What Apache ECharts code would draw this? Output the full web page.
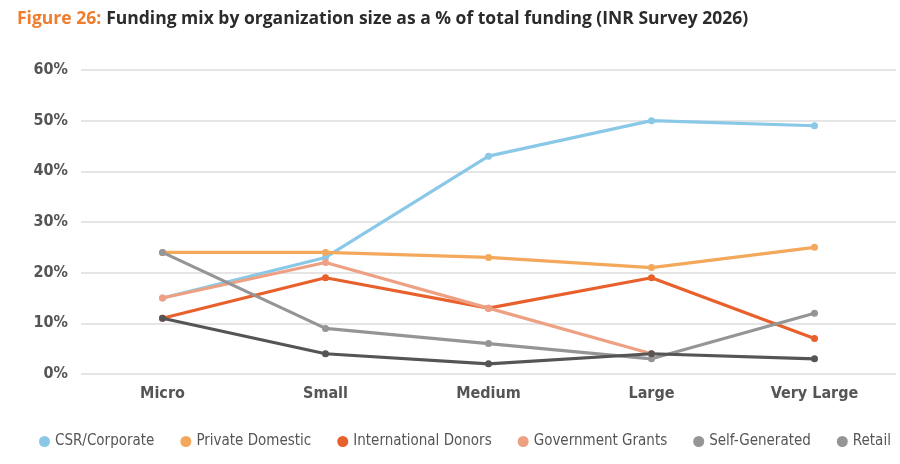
<!DOCTYPE html>
<html>
<head>
<meta charset="utf-8">
<script src="https://cdn.jsdelivr.net/npm/echarts@6/dist/echarts.min.js"></script>
<style>
  html, body { margin: 0; padding: 0; background: #fff; }
  #chart { width: 900px; height: 464px; }
</style>
</head>
<body>
<div id="chart"></div>
<script>
const categories = ['Micro', 'Small', 'Medium', 'Large', 'Very Large']
const yTicks = [0, 10, 20, 30, 40, 50, 60]

const csrCorporate = [15, 23, 43, 50, 49]
const privateDomestic = [24, 24, 23, 21, 25]
const internationalDonors = [11, 19, 13, 19, 7]
const governmentGrants = [15, 22, 13, 4, null]
const selfGenerated = [24, 9, 6, 3, 12]
const retail = [11, 4, 2, 4, 3]

const condensed = '"DejaVu Sans Condensed", "Liberation Sans Narrow", sans-serif'

const seriesDefs = [
  { name: 'CSR/Corporate', data: csrCorporate, color: '#8ac8e8', legendColor: '#8ac8e8' },
  { name: 'Private Domestic', data: privateDomestic, color: '#f3a85c', legendColor: '#f3a85c' },
  { name: 'International Donors', data: internationalDonors, color: '#e8602c', legendColor: '#e8602c' },
  { name: 'Government Grants', data: governmentGrants, color: '#eea083', legendColor: '#eea083' },
  { name: 'Self-Generated', data: selfGenerated, color: '#959597', legendColor: '#959597' },
  { name: 'Retail', data: retail, color: '#555555', legendColor: '#959597' },
]

const myChart = echarts.init(document.getElementById('chart'))

const option = {
  animation: false,
  title: {
    left: 12,
    top: 5,
    text: '{a|Figure 26:} {b|Funding mix by organization size as a % of total funding (INR Survey 2026)}',
    textStyle: {
      rich: {
        a: { color: '#ef7d2d', fontSize: 17.5, fontWeight: 'bold', fontFamily: '"Open Sans", sans-serif' },
        b: { color: '#2b2b2b', fontSize: 17.5, fontWeight: 'bold', fontFamily: '"Open Sans", sans-serif' },
      },
    },
  },
  legend: {
    bottom: 10,
    left: 34,
    icon: 'circle',
    itemWidth: 11,
    itemHeight: 11,
    itemGap: 26,
    textStyle: { color: '#555', fontSize: 15, fontFamily: condensed },
    data: seriesDefs.map(s => ({ name: s.name, itemStyle: { color: s.legendColor } })),
  },
  grid: { left: 81, right: 4, top: 70, height: 304, containLabel: false },
  xAxis: {
    type: 'category',
    data: categories,
    boundaryGap: true,
    axisLine: { show: false },
    axisTick: { show: false },
    axisLabel: { color: '#555', fontSize: 16, fontWeight: 'bold', fontFamily: condensed, margin: 12 },
  },
  yAxis: {
    type: 'value',
    min: yTicks[0],
    max: yTicks[yTicks.length - 1],
    interval: 10,
    axisLine: { show: false },
    axisTick: { show: false },
    axisLabel: {
      color: '#555', fontSize: 16, fontWeight: 'bold', fontFamily: condensed, margin: 13,
      formatter: v => v + '%',
    },
    splitLine: { lineStyle: { color: '#dcdcdc', width: 1.5 } },
  },
  series: seriesDefs.map(s => ({
    name: s.name,
    type: 'line',
    data: s.data,
    symbol: 'circle',
    symbolSize: 7,
    connectNulls: false,
    lineStyle: { color: s.color, width: 3.2 },
    itemStyle: { color: s.color },
  })),
}

myChart.setOption(option)
</script>
</body>
</html>
